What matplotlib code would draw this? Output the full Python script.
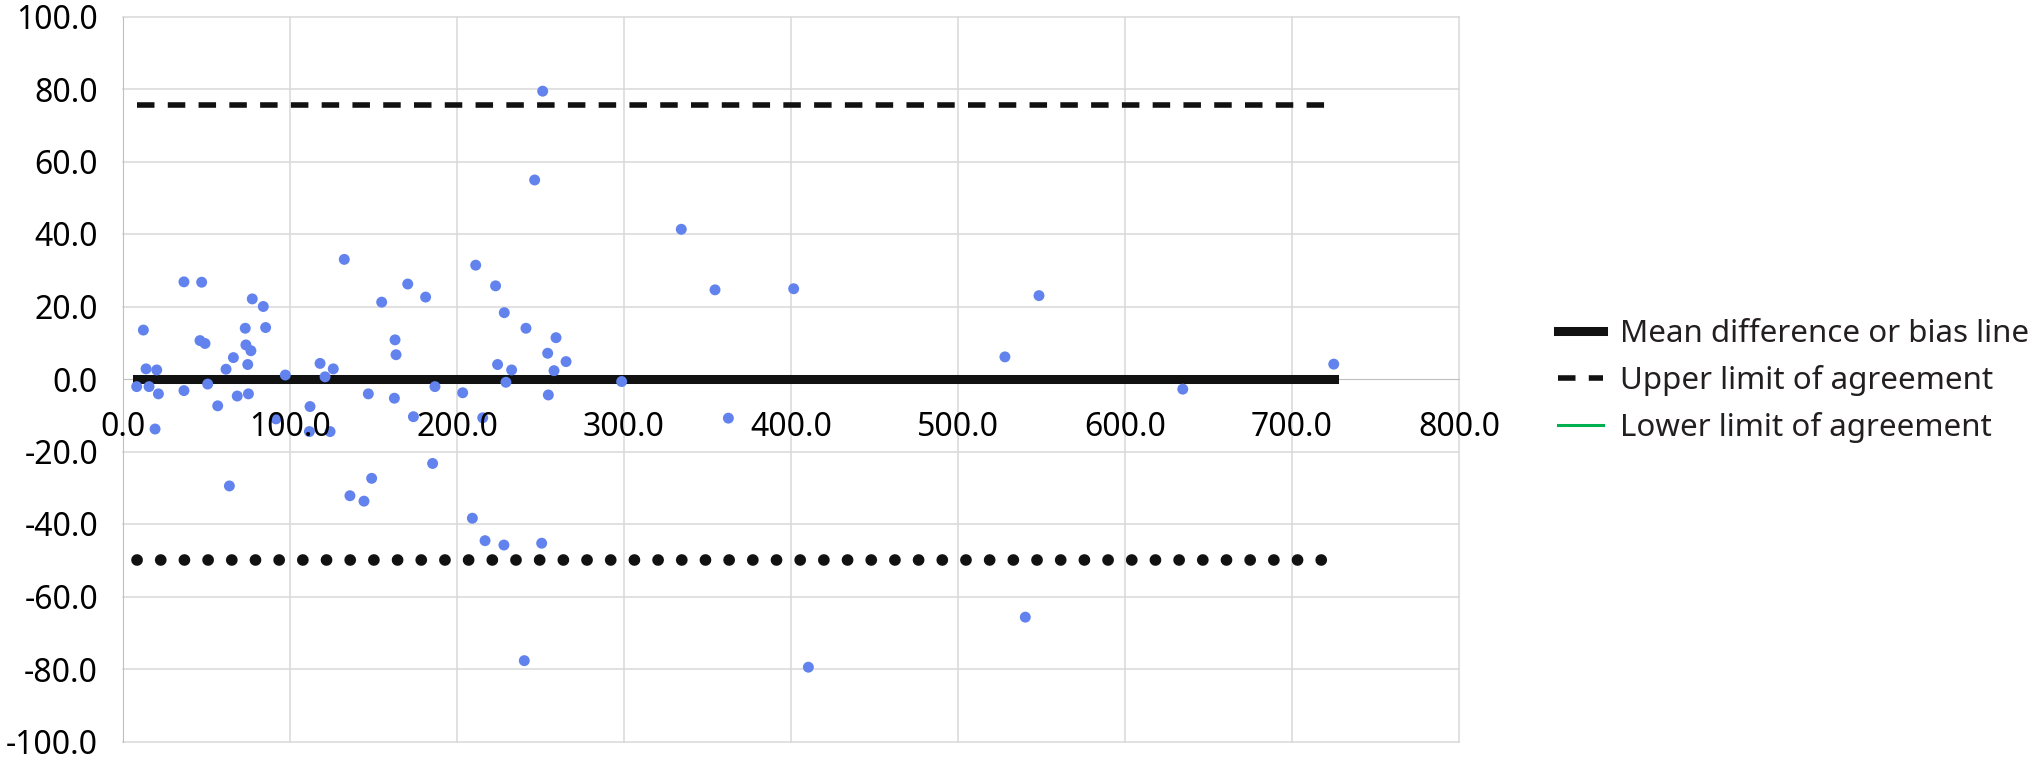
import matplotlib
matplotlib.use('Agg')
import matplotlib.pyplot as plt
from matplotlib.lines import Line2D

# mean of the two methods (x) and their difference (y)
medias = [8.2, 12.2, 13.8, 15.6, 19.2, 20.2, 21.2,
          36.5, 36.5, 46.1, 47.1, 49.1, 50.7, 56.7,
          61.7, 63.7, 66.1, 68.4, 73.2, 73.6, 74.7, 75.1, 76.6, 77.4,
          84.0, 85.4, 91.6, 97.2, 111.6, 112.0, 118.0, 121.0, 124.0, 125.9,
          132.5, 135.9, 144.3, 146.9, 148.9, 154.9, 162.5, 162.9, 163.5,
          170.5, 173.9, 181.2, 185.4, 186.8, 203.4, 209.2, 211.2, 215.4, 216.8,
          223.1, 224.3, 228.1, 228.3, 229.3, 232.7, 240.3, 241.3, 246.5, 250.7, 251.3,
          254.3, 254.7, 258.1, 259.3, 265.3, 298.6, 334.3, 354.5, 362.5, 401.6, 410.4,
          528.1, 540.3, 548.5, 634.6, 725.0]
diferencias = [-2.1, 13.5, 2.8, -2.1, -13.8, 2.5, -4.1,
               26.8, -3.2, 10.6, 26.7, 9.8, -1.4, -7.4,
               2.7, -29.5, 5.9, -4.7, 14.0, 9.4, 4.0, -4.1, 7.8, 22.1,
               20.0, 14.2, -11.0, 1.1, -14.5, -7.6, 4.3, 0.6, -14.5, 2.8,
               33.0, -32.2, -33.7, -4.1, -27.4, 21.2, -5.3, 10.8, 6.7,
               26.2, -10.4, 22.6, -23.3, -2.1, -3.8, -38.4, 31.4, -10.7, -44.6,
               25.7, 4.0, -45.8, 18.3, -0.9, 2.5, -77.7, 14.0, 54.9, -45.3, 79.4,
               7.1, -4.4, 2.3, 11.4, 4.8, -0.7, 41.3, 24.6, -10.8, 24.9, -79.5,
               6.1, -65.7, 23.0, -2.8, 4.1]

sesgo = 0.0
limite_sup = 75.7
limite_inf = -49.9

xticks = [0, 100, 200, 300, 400, 500, 600, 700, 800]
yticks = [-100, -80, -60, -40, -20, 0, 20, 40, 60, 80, 100]

plt.rcParams['font.family'] = ['Noto Sans', 'DejaVu Sans']

W, H = 2037, 763
fig = plt.figure(figsize=(W / 100, H / 100), dpi=100)
ax = fig.add_axes([123 / W, 1 - 741.5 / H, (1459 - 123) / W, (741.5 - 16.5) / H])

ax.set_xlim(0, 800)
ax.set_ylim(-100, 100)

# grid drawn by hand so tick labels can sit above the points
for v in xticks[1:]:
    ax.axvline(v, color='#D9D9D9', lw=1.1, zorder=0.5, clip_on=False)
for v in yticks:
    if v != 0:
        ax.axhline(v, color='#D9D9D9', lw=1.1, zorder=0.5, clip_on=False)

linea_x = [min(medias), max(medias)]
ax.plot(linea_x, [sesgo, sesgo], color='#111111', lw=6.5, solid_capstyle='projecting',
        zorder=2, label='Mean difference or bias line')
ax.plot(linea_x, [limite_sup, limite_sup], color='#111111', lw=4, dashes=(3.15, 2.39),
        dash_capstyle='butt', zorder=2, label='Upper limit of agreement')
ax.plot(linea_x, [limite_inf, limite_inf], color='#111111', lw=8.4, dashes=(0.01, 2.02),
        dash_capstyle='round', zorder=2)

ax.scatter(medias, diferencias, s=62, color='#6282EE', edgecolors='none', zorder=2.2)

ax.spines['top'].set_visible(False)
ax.spines['right'].set_visible(False)
ax.spines['left'].set_color('#BFBFBF')
ax.spines['left'].set_zorder(0.6)
ax.spines['bottom'].set_position(('data', 0))
ax.spines['bottom'].set_color('#BFBFBF')
ax.spines['bottom'].set_zorder(0.6)
ax.set_axisbelow(False)

ax.set_xticks(xticks)
ax.set_xticklabels([f'{v:.1f}' for v in xticks])
ax.set_yticks(yticks)
ax.set_yticklabels([f'{v:.1f}' for v in yticks])
ax.tick_params(axis='x', length=0, pad=23, labelsize=23, labelcolor='black')
ax.tick_params(axis='y', length=0, pad=18, labelsize=23, labelcolor='black')

handles, labels = ax.get_legend_handles_labels()
handles.append(Line2D([0], [0], color='#00B050', lw=2.2))
labels.append('Lower limit of agreement')
ax.legend(handles, labels, loc='center left', bbox_to_anchor=(1558 / W, 0.5007),
          bbox_transform=fig.transFigure, frameon=False, fontsize=22.5,
          handlelength=1.45, handletextpad=0.55, borderpad=0, borderaxespad=0,
          labelspacing=0.5, labelcolor='#231F20')

fig.savefig('out.png', dpi=100)
